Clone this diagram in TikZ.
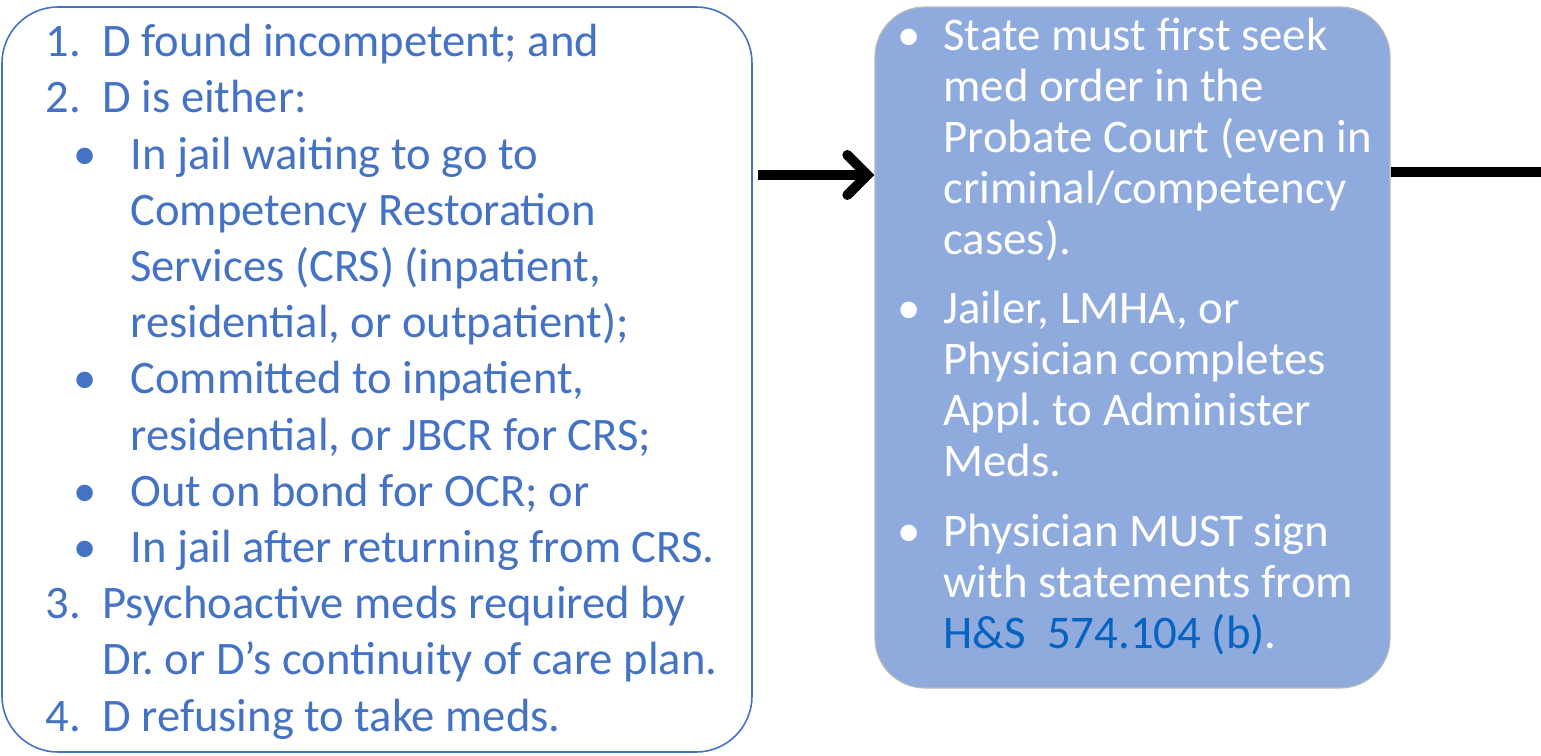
\documentclass[tikz,border=0pt]{standalone}
\usepackage{fontspec}
\setmainfont{Carlito}
\usetikzlibrary{arrows.meta}
\definecolor{condblue}{HTML}{4472C4}
\definecolor{orderfill}{HTML}{8FAADC}
\definecolor{linkblue}{HTML}{0563C1}
\frenchspacing
\newcommand{\numlbl}[1]{\makebox[28.5pt][l]{#1}}
\newcommand{\sublbl}{\hspace*{14pt}\makebox[28.5pt][l]{\textbullet}}
\newcommand{\ordlbl}{\makebox[23pt][l]{\textbullet}}
\tikzset{
  condbox/.style={draw=condblue, line width=0.8pt, rounded corners=28pt, minimum width=375pt, minimum height=372.5pt},
  orderbox/.style={draw=gray!55, fill=orderfill, line width=0.6pt, rounded corners=25pt, minimum width=257.5pt, minimum height=340.5pt},
  condtext/.style={anchor=base west, inner sep=0pt, align=left, text=condblue, font=\fontsize{23.3}{28.1}\selectfont},
  ordertext/.style={anchor=base west, inner sep=0pt, align=left, text=white, font=\fontsize{23.4}{25.5}\selectfont},
  flowarrow/.style={line width=5pt, -{Straight Barb[length=10pt, width=20pt, line cap=round]}},
  flowline/.style={line width=5pt}
}
\begin{document}
\begin{tikzpicture}[x=0.5pt, y=-0.5pt]
  \useasboundingbox (0,0) rectangle (1541,755);
  \node[condbox] (cond) at (377,379.5) {};
  \node[orderbox] (order) at (1132.5,347.5) {};
  \node[condtext] (condlist) at (45,731) {%
    \numlbl{1.}D found incompetent; and\\
    \numlbl{2.}D is either:\\
    \sublbl In jail waiting to go to\\
    \hspace*{42.5pt}Competency Restoration\\
    \hspace*{42.5pt}Services (CRS) (inpatient,\\
    \hspace*{42.5pt}residential, or outpatient);\\
    \sublbl Committed to inpatient,\\
    \hspace*{42.5pt}residential, or JBCR for CRS;\\
    \sublbl Out on bond for OCR; or\\
    \sublbl In jail after returning from CRS.\\
    \numlbl{3.}Psychoactive meds required by\\
    \hspace*{28.5pt}Dr. or D’s continuity of care plan.\\
    \numlbl{4.}D refusing to take meds.};
  \node[ordertext] (orderlist) at (897,648) {%
    \ordlbl State must first seek\\
    \hspace*{23pt}med order in the\\
    \hspace*{23pt}Probate Court (even in\\
    \hspace*{23pt}criminal/competency\\
    \hspace*{23pt}cases).\\[9pt]
    \ordlbl Jailer, LMHA, or\\
    \hspace*{23pt}Physician completes\\
    \hspace*{23pt}Appl. to Administer\\
    \hspace*{23pt}Meds.\\[9.5pt]
    \ordlbl Physician MUST sign\\
    \hspace*{23pt}with statements from\\
    \hspace*{23pt}\textcolor{linkblue}{H\&S\ \ 574.104 (b)}.};
  \coordinate (exit) at (1541,172);
  \draw[flowarrow] (cond.east |- 0,175) ++(5,0) -- (order.west |- 0,175);
  \draw[flowline] (order.east |- exit) -- (exit);
\end{tikzpicture}
\end{document}
